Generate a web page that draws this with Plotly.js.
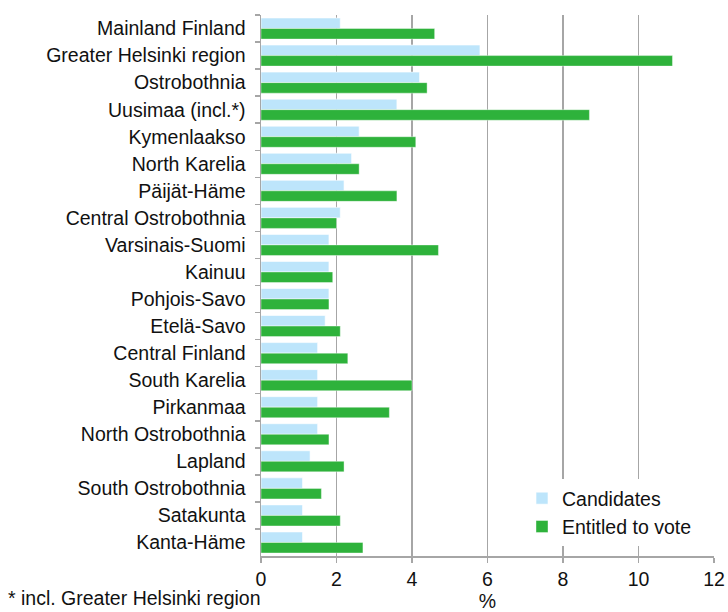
<!DOCTYPE html>
<html>
<head>
<meta charset="utf-8">
<script src="https://cdn.plot.ly/plotly-3.0.1.min.js"></script>
<style>html,body{margin:0;padding:0;background:#fff;}#chart{width:728px;height:612px;}</style>
</head>
<body>
<div id="chart"></div>
<script>
const regions = ["Mainland Finland","Greater Helsinki region","Ostrobothnia","Uusimaa (incl.*)","Kymenlaakso","North Karelia","Päijät-Häme","Central Ostrobothnia","Varsinais-Suomi","Kainuu","Pohjois-Savo","Etelä-Savo","Central Finland","South Karelia","Pirkanmaa","North Ostrobothnia","Lapland","South Ostrobothnia","Satakunta","Kanta-Häme"];
const candidates = [2.1,5.8,4.2,3.6,2.6,2.4,2.2,2.1,1.8,1.8,1.8,1.7,1.5,1.5,1.5,1.5,1.3,1.1,1.1,1.1];
const entitled = [4.6,10.9,4.4,8.7,4.1,2.6,3.6,2.0,4.7,1.9,1.8,2.1,2.3,4.0,3.4,1.8,2.2,1.6,2.1,2.7];
const xTicks = [0,2,4,6,8,10,12];
const seriesNames = ["Candidates","Entitled to vote"];
const footnote = "* incl. Greater Helsinki region";

const FONT = "Liberation Sans, Arial, sans-serif";
const FS = 19.5;
const traces = [
  {type:"bar", orientation:"h", name:seriesNames[0], y:regions, x:candidates,
   marker:{color:"#bde5fb", line:{color:"rgba(255,255,255,0.6)", width:1}}},
  {type:"bar", orientation:"h", name:seriesNames[1], y:regions, x:entitled,
   marker:{color:"#2eb23b", line:{color:"rgba(255,255,255,0.4)", width:1}}}
];
const W = 728, H = 612, L = 261, R = 14, T = 15, B = 56;
const pw = W-L-R, ph = H-T-B;
const layout = {
  width:W, height:H,
  margin:{l:L, r:R, t:T, b:B, pad:0},
  paper_bgcolor:"#fff", plot_bgcolor:"#fff",
  font:{family:FONT, size:FS, color:"#111"},
  barmode:"group", bargap:0.22, bargroupgap:0,
  showlegend:true,
  legend:{x:(522-L)/pw, y:(H-B-479)/ph, xanchor:"left", yanchor:"top",
          bgcolor:"#fff", borderwidth:0, font:{family:FONT, size:FS, color:"#111"},
          tracegroupgap:0, itemwidth:30},
  xaxis:{range:[0,12], tickvals:xTicks, ticktext:xTicks.map(String),
         showgrid:true, gridcolor:"#a6a6a6", gridwidth:1.5,
         showline:true, linecolor:"#a6a6a6", linewidth:1.5,
         ticks:"outside", ticklen:5, tickcolor:"#a6a6a6", tickwidth:1.5,
         zeroline:false, tickfont:{family:FONT, size:FS, color:"#111"},
         title:{text:"%", font:{family:FONT, size:FS, color:"#111"}, standoff:16}},
  yaxis:{type:"category", autorange:"reversed", showgrid:false,
         showline:true, linecolor:"#a6a6a6", linewidth:1.5,
         ticks:"outside", ticklen:5, tickcolor:"#a6a6a6", tickwidth:1.5,
         tickson:"boundaries", ticklabelstandoff:10,
         tickfont:{family:FONT, size:FS, color:"#111"}},
  annotations:[{text:footnote, xref:"paper", yref:"paper",
                x:(6-L)/pw, y:(H-B-598)/ph, xanchor:"left", yanchor:"middle",
                showarrow:false, font:{family:FONT, size:FS, color:"#111"}}]
};
Plotly.newPlot("chart", traces, layout, {displayModeBar:false, staticPlot:true});
</script>
</body>
</html>
